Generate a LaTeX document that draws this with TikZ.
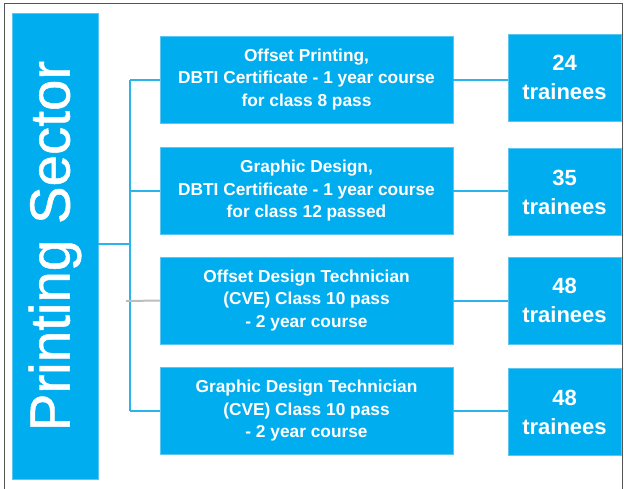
\documentclass[tikz,border=0pt]{standalone}
\usepackage{fontspec}
\setmainfont{Liberation Sans}
\newfontfamily\sectorfont{Liberation Sans}[FakeBold=0.9]
\usepackage{xcolor}
\usepackage{tikz}
\usetikzlibrary{positioning}
\definecolor{sectorblue}{HTML}{00AEEF}
\definecolor{edgeblue}{HTML}{5CC6F2}
\definecolor{linkblue}{HTML}{2AB4EE}
\definecolor{linkgray}{HTML}{BDBDBD}
\definecolor{frame}{HTML}{555555}

\tikzset{
  course/.style={draw=edgeblue, fill=sectorblue, text=white, align=center,
    minimum width=293pt, minimum height=87pt, inner sep=0pt,
    font=\fontsize{17.3}{22.5}\selectfont\bfseries},
  count/.style={draw=edgeblue, fill=sectorblue, text=white, align=center,
    minimum width=113pt, minimum height=87pt, inner sep=0pt,
    font=\fontsize{22}{29}\selectfont\bfseries},
  link/.style={draw=linkblue, line width=2pt}
}

\begin{document}
\begin{tikzpicture}[x=1pt, y=-1pt]
\useasboundingbox (0,0) rectangle (624,488);

% ---------- outer frame, open at the bottom
\draw[frame, line width=0.8pt] (4,495) |- (622,3) -- (622,495);

% ---------- sector column
\node[draw=edgeblue, fill=sectorblue, minimum width=86pt, minimum height=466pt,
      inner sep=0pt] (sector) at (55,246) {};
\node[rotate=90, text=white, font=\sectorfont\fontsize{56.5}{60}\selectfont] at (sector.center) {Printing Sector};

% ---------- courses and trainee counts
\node[course] (offset)  at (306.5,79.5) {Offset Printing,\\DBTI Certificate - 1 year course\\for class 8 pass};
\node[course] (graphic) at (306.5,191)  {Graphic Design,\\DBTI Certificate - 1 year course\\for class 12 passed};
\node[course] (offtech) at (306.5,300.5) {Offset Design Technician\\(CVE) Class 10 pass\\- 2 year course};
\node[course] (grtech)  at (306.5,411)  {Graphic Design Technician\\(CVE) Class 10 pass\\- 2 year course};

\node[count] (n1) at (564.5,77.5)  {24\\trainees};
\node[count] (n2) at (564.5,192)   {35\\trainees};
\node[count] (n3) at (564.5,300.5) {48\\trainees};
\node[count] (n4) at (564.5,412)   {48\\trainees};

% ---------- tree connectors
\coordinate (trunk) at (130,244);
\draw[link] (sector.east |- trunk) -- (trunk);
\draw[link] (trunk |- offset.west) -- (trunk |- grtech.west);
\draw[link] (trunk |- offset.west) -- (offset.west);
\draw[link] (trunk |- graphic.west) -- (graphic.west);
\draw[link, draw=linkgray] (126,301) -- (offtech.west);
\draw[link] (trunk |- grtech.west) -- (grtech.west);

\foreach \a/\b in {offset/n1, graphic/n2, offtech/n3, grtech/n4}{
  \draw[link] (\a.east) -- (\a.east -| \b.west); }

\end{tikzpicture}
\end{document}
